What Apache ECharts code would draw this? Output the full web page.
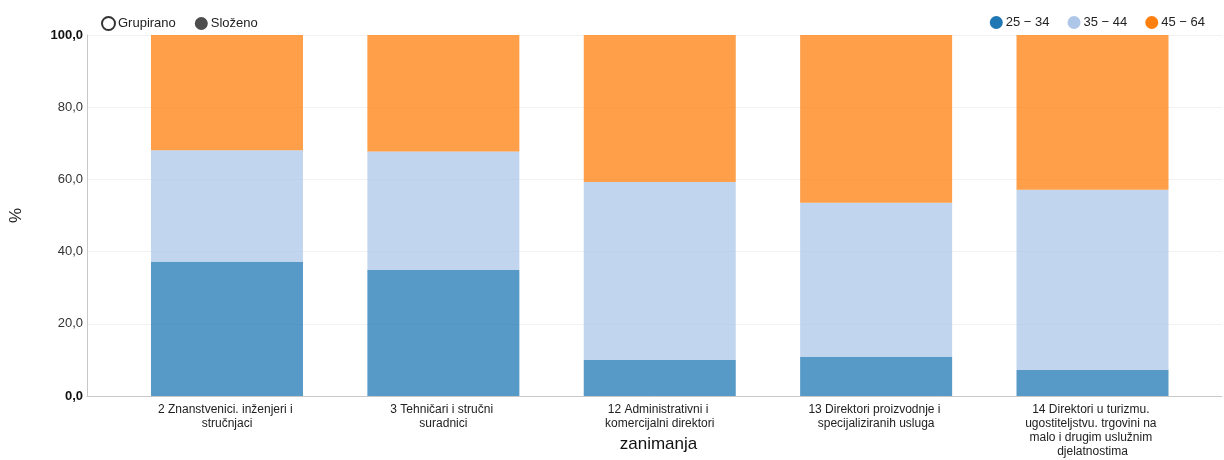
<!DOCTYPE html>
<html>
<head>
<meta charset="utf-8">
<script src="https://cdn.jsdelivr.net/npm/echarts@6/dist/echarts.min.js"></script>
<style>html,body{margin:0;padding:0;background:#fff}#c{width:1224px;height:460px}</style>
</head>
<body>
<div id="c"></div>
<script>
const categories = [
  "2 Znanstvenici. inženjeri i stručnjaci",
  "3 Tehničari i stručni suradnici",
  "12 Administrativni i komercijalni direktori",
  "13 Direktori proizvodnje i specijaliziranih usluga",
  "14 Direktori u turizmu. ugostiteljstvu. trgovini na malo i drugim uslužnim djelatnostima"
];
const seriesNames = ["25 − 34", "35 − 44", "45 − 64"];
const age25_34 = [37.2, 34.9, 10.0, 10.9, 7.2];
const age35_44 = [30.9, 32.8, 49.3, 42.6, 49.9];
const age45_64 = [31.9, 32.3, 40.7, 46.5, 42.9];
const colors = ["#1f77b4", "#aec7e8", "#ff7f0e"];
const modeNames = ["Grupirano", "Složeno"];
const yTicks = [0, 20, 40, 60, 80, 100];

const FONT = "Liberation Sans, Arial, sans-serif";
const chart = echarts.init(document.getElementById('c'), null, {renderer: 'canvas'});

const values = [age25_34, age35_44, age45_64];
const barSeries = seriesNames.map((n, i) => ({
  name: n,
  type: 'bar',
  stack: 'total',
  xAxisIndex: 1,
  yAxisIndex: 1,
  barWidth: 152,
  data: values[i],
  itemStyle: {color: colors[i], opacity: 0.75},
  emphasis: {disabled: true}
}));

const option = {
  animation: false,
  textStyle: {fontFamily: FONT},
  legend: [
    {
      data: modeNames.map((n, i) => ({
        name: n,
        icon: 'circle',
        itemStyle: i === 0 ? {color: '#fff', borderColor: '#333', borderWidth: 2} : {color: '#4d4d4d'}
      })),
      left: 96, top: 11, itemWidth: 13, itemHeight: 13, itemGap: 19,
      textStyle: {fontSize: 13, color: '#222', fontFamily: FONT, padding: [0, 0, 0, -2]},
      selectedMode: false
    },
    {
      data: seriesNames.map((n, i) => ({name: n, icon: 'circle', itemStyle: {color: colors[i], opacity: 1}})),
      right: 14, top: 11, itemWidth: 13, itemHeight: 13, itemGap: 18,
      textStyle: {fontSize: 13, color: '#222', fontFamily: FONT, padding: [0, 0, 0, -2]},
      selectedMode: false
    }
  ],
  grid: [
    {left: 87, right: 2, top: 35, bottom: 64, containLabel: false, outerBoundsMode: 'none'},
    {left: 118.8, right: 23.3, top: 35, bottom: 64, containLabel: false, outerBoundsMode: 'none'}
  ],
  xAxis: [
    {
      type: 'category', gridIndex: 0, data: categories,
      axisLine: {lineStyle: {color: '#c8c8c8', width: 1}},
      axisTick: {show: false}, axisLabel: {show: false},
      name: 'zanimanja', nameLocation: 'middle', nameGap: 40,
      nameTextStyle: {fontSize: 17, color: '#111', fontFamily: FONT, padding: [0, 0, 0, 8]}
    },
    {
      type: 'category', gridIndex: 1, data: categories,
      axisLine: {show: false}, axisTick: {show: false},
      axisLabel: {
        interval: 0, fontSize: 12, color: '#222', fontFamily: FONT,
        width: 160, overflow: 'break', lineHeight: 14, margin: 7, align: 'center'
      }
    }
  ],
  yAxis: [
    {
      type: 'value', gridIndex: 0, min: 0, max: 100, interval: 20,
      axisLine: {show: true, lineStyle: {color: '#c8c8c8'}},
      axisTick: {show: false},
      splitLine: {lineStyle: {color: '#f2f2f2', width: 1}},
      axisLabel: {
        margin: 4, fontSize: 13, color: '#333', fontFamily: FONT,
        formatter: v => {
          const s = v.toFixed(1).replace('.', ',');
          return (v === yTicks[0] || v === yTicks[yTicks.length - 1]) ? '{b|' + s + '}' : s;
        },
        rich: {b: {fontWeight: 'bold', fontSize: 13, color: '#111', fontFamily: FONT}}
      },
      name: '%', nameLocation: 'middle', nameGap: 62, nameRotate: 90,
      nameTextStyle: {fontSize: 17, color: '#222', fontFamily: FONT}
    },
    {
      type: 'value', gridIndex: 1, min: 0, max: 100, interval: 20, show: false
    }
  ],
  series: [
    ...modeNames.map(n => ({name: n, type: 'line', xAxisIndex: 0, yAxisIndex: 0, data: []})),
    ...barSeries
  ]
};
chart.setOption(option);
</script>
</body>
</html>
